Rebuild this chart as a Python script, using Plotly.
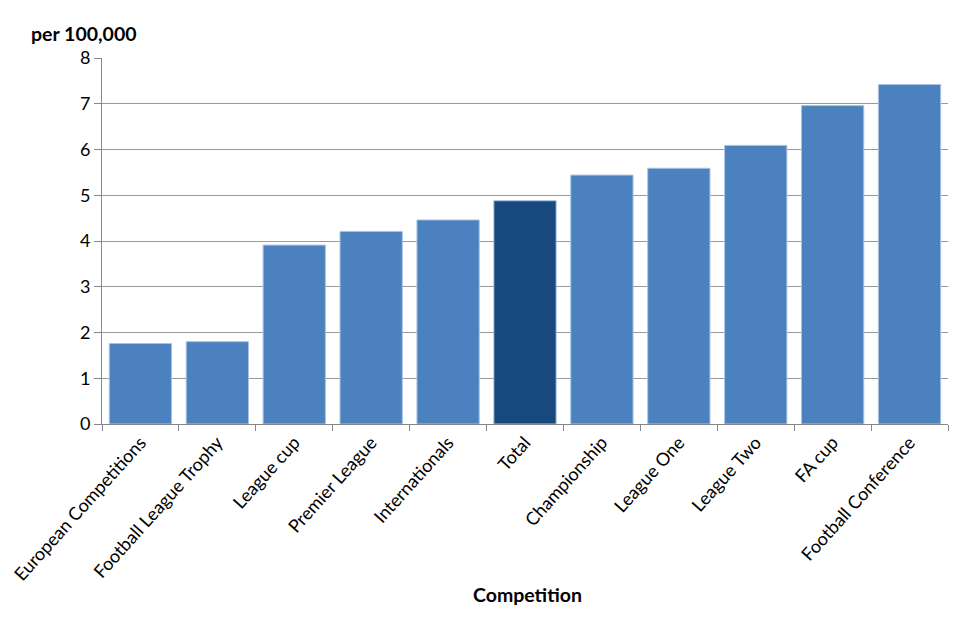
import plotly.graph_objects as go

categories = ["European Competitions", "Football League Trophy", "League cup", "Premier League",
              "Internationals", "Total", "Championship", "League One", "League Two", "FA cup",
              "Football Conference"]
values = [1.76, 1.80, 3.91, 4.21, 4.46, 4.88, 5.44, 5.59, 6.09, 6.96, 7.42]
highlight = "Total"
y_ticks = [0, 1, 2, 3, 4, 5, 6, 7, 8]

base_color = "#4A81BE"
hi_color = "#17497E"
colors = [hi_color if c == highlight else base_color for c in categories]

W, H = 960, 640
L, R, T, B = 94, 20, 50, 224  # page has an 8px body margin

fig = go.Figure(go.Bar(
    x=categories, y=values,
    marker=dict(color=colors, line=dict(color="#A9C4E4", width=1)),
))

font_family = "Lato, 'Open Sans', Arial, sans-serif"
fig.update_layout(
    width=W, height=H,
    margin=dict(l=L, r=R, t=T, b=B, autoexpand=False),
    plot_bgcolor="white", paper_bgcolor="white",
    bargap=0.19,
    showlegend=False,
    font=dict(family=font_family, color="#000000"),
    xaxis=dict(
        type="category",
        tickangle=-48,
        tickfont=dict(size=18, family=font_family),
        showline=True, linecolor="#888888", linewidth=1,
        ticks="outside", tickson="boundaries", ticklen=6, tickcolor="#888888",
        showgrid=False, automargin=False,
    ),
    yaxis=dict(
        range=[0, 8], tickvals=y_ticks,
        tickfont=dict(size=18, family=font_family),
        showline=True, linecolor="#888888", linewidth=1,
        ticks="outside", ticklen=7, tickcolor="#888888",
        showgrid=True, gridcolor="#999999", gridwidth=1,
        zeroline=False, automargin=False,
    ),
)

plot_w = W - L - R
plot_h = H - T - B

def px_x(x):
    return (x - 8 - L) / plot_w

def px_y(y):
    return (H - B - (y - 8)) / plot_h

fig.add_annotation(text="<b>per 100,000</b>", x=px_x(29), y=px_y(33), xref="paper", yref="paper",
                   showarrow=False, font=dict(size=19.5, family=font_family),
                   xanchor="left", yanchor="middle")
fig.add_annotation(text="<b>Competition</b>", x=px_x(527), y=px_y(594), xref="paper", yref="paper",
                   showarrow=False, font=dict(size=19.5, family=font_family),
                   xanchor="center", yanchor="middle")

fig.write_html("out.html")
